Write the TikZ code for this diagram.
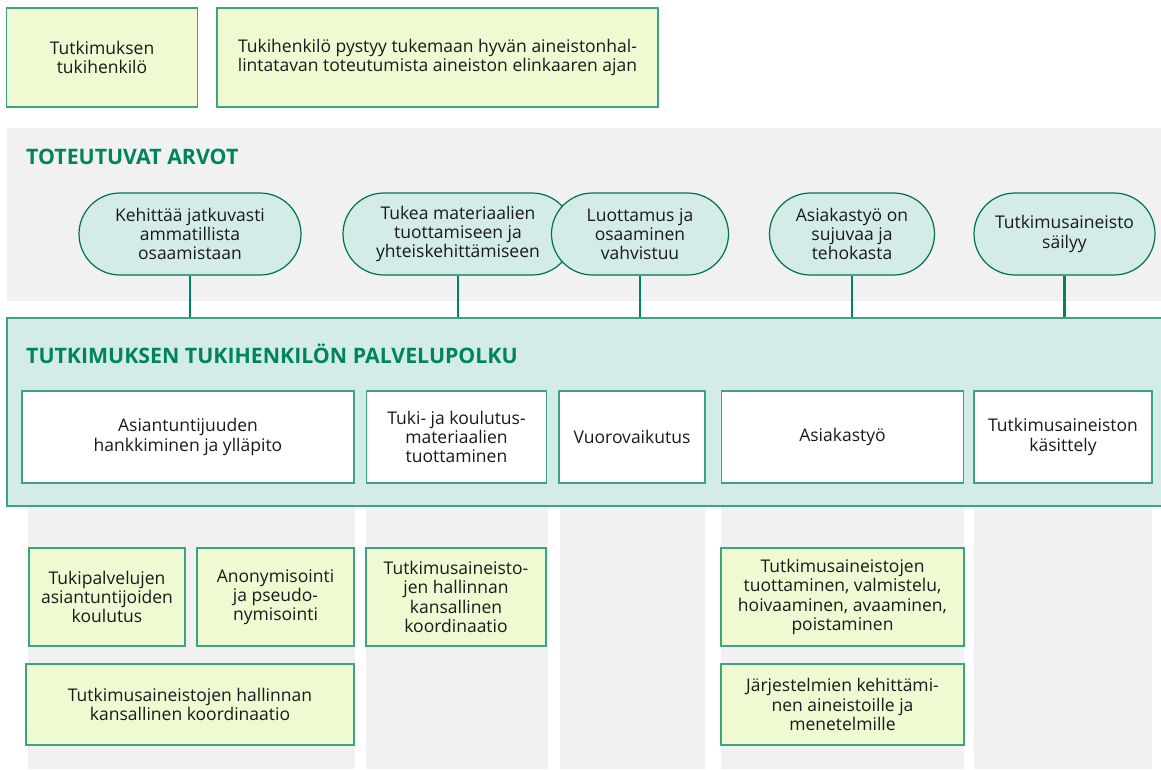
\documentclass[tikz,border=0pt]{standalone}
\usepackage{fontspec}
\setmainfont{Open Sans}
\usepackage{tikz}
\usetikzlibrary{shapes,positioning,calc}

\definecolor{tkgreen}{HTML}{00845F}
\definecolor{tkline}{HTML}{3DA482}
\definecolor{tkteal}{HTML}{D3ECE7}
\definecolor{tklime}{HTML}{F0FAD2}
\definecolor{tkgray}{HTML}{F1F1F1}
\definecolor{tktext}{HTML}{1A1A1A}

\begin{document}
\begin{tikzpicture}[x=1pt,y=-1pt,
    every node/.style={font=\fontsize{17.5}{19.3}\selectfont, text=tktext, align=center, inner sep=0pt},
    limebox/.style={draw=tkline, line width=1.2pt, fill=tklime},
    whitebox/.style={draw=tkline, line width=1.2pt, fill=white, minimum height=92pt},
    valuepill/.style={draw=tkgreen!85!black, line width=1.2pt, fill=tkteal,
        rounded corners=41pt, minimum height=82pt},
    heading/.style={anchor=west, text=tkgreen, font=\fontsize{21.3}{24}\selectfont\bfseries},
    link/.style={tkgreen, line width=2.6pt}]
    \useasboundingbox (0,0) rectangle (1161,769);

    % Top
    \node[limebox, minimum width=191pt, minimum height=99pt] (role) at (102,57.5) {Tutkimuksen\\tukihenkilö};
    \node[limebox, minimum width=441pt, minimum height=99pt] (goal) at (437.5,57.5)
        {Tukihenkilö pystyy tukemaan hyvän aineistonhal-\\lintatavan toteutumista aineiston elinkaaren ajan};

    % Values
    \fill[tkgray] (7,128) rectangle (1161,301);
    \node[heading] (arvot) at (26,157) {TOTEUTUVAT ARVOT};
    \node[valuepill, minimum width=222pt] (v1) at (190,234) {Kehittää jatkuvasti\\ammatillista\\osaamistaan};
    \node[valuepill, minimum width=230pt] (v2) at (458,234) {Tukea materiaalien\\tuottamiseen ja\\yhteiskehittämiseen};
    \node[valuepill, minimum width=177pt] (v3) at (640,234) {Luottamus ja\\osaaminen\\vahvistuu};
    \node[valuepill, minimum width=165pt] (v4) at (852,234) {Asiakastyö on\\sujuvaa ja\\tehokasta};
    \node[valuepill, minimum width=181pt] (v5) at (1064.5,234) {Tutkimusaineisto\\säilyy};

    % Service path
    \node[draw=tkline, line width=1.2pt, fill=tkteal, minimum width=1156pt, minimum height=188pt] (polku) at (585,412) {};
    \node[heading] (polkutitle) at (26,354) {TUTKIMUKSEN TUKIHENKILÖN PALVELUPOLKU};
    \foreach \v in {v1,v2,v3,v4,v5}
        \draw[link] (\v.south) -- (\v.south |- polku.north);

    \node[whitebox, minimum width=332pt] (s1) at (188,437) {Asiantuntijuuden\\hankkiminen ja ylläpito};
    \node[whitebox, minimum width=180pt] (s2) at (456.5,437) {Tuki- ja koulutus-\\materiaalien\\tuottaminen};
    \node[whitebox, minimum width=146pt] (s3) at (632,437) {Vuorovaikutus};
    \node[whitebox, minimum width=242pt] (s4) at (842.5,437) {Asiakastyö};
    \node[whitebox, minimum width=178pt] (s5) at (1063,437) {Tutkimusaineiston\\käsittely};

    % Columns
    \fill[tkgray] (28,507) rectangle (355,769);
    \fill[tkgray] (366,507) rectangle (548,769);
    \fill[tkgray] (560,507) rectangle (705,769);
    \fill[tkgray] (721,507) rectangle (964,769);
    \fill[tkgray] (974,507) rectangle (1152,769);

    \node[limebox, minimum width=156pt, minimum height=98pt] (t1) at (107,597) {Tukipalvelujen\\asiantuntijoiden\\koulutus};
    \node[limebox, minimum width=157pt, minimum height=98pt] (t2) at (275.5,597) {Anonymisointi\\ja pseudo-\\nymisointi};
    \node[limebox, minimum width=180pt, minimum height=98pt] (t3) at (456,597) {Tutkimusaineisto-\\jen hallinnan\\kansallinen\\koordinaatio};
    \node[limebox, minimum width=328pt, minimum height=81pt] (t4) at (190,704.5) {Tutkimusaineistojen hallinnan\\kansallinen koordinaatio};
    \node[limebox, minimum width=243pt, minimum height=98pt] (t5) at (842.5,597) {Tutkimusaineistojen\\tuottaminen, valmistelu,\\hoivaaminen, avaaminen,\\poistaminen};
    \node[limebox, minimum width=243pt, minimum height=81pt] (t6) at (842.5,704.5) {Järjestelmien kehittämi-\\nen aineistoille ja\\menetelmille};
\end{tikzpicture}
\end{document}
